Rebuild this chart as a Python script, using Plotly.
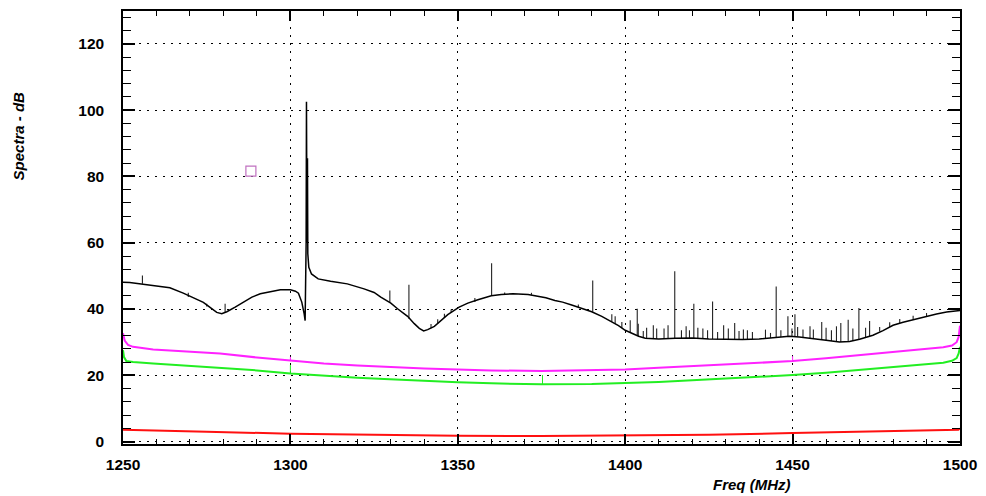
import plotly.graph_objects as go

# ---------------- data ----------------
black_f = [1250, 1252, 1256, 1260, 1264, 1268, 1271, 1274, 1276, 1278, 1279.5, 1281, 1283.5, 1286,
           1288.5, 1291, 1294, 1297, 1300, 1301.5, 1302.4, 1303.4, 1304.1, 1304.4, 1304.7, 1304.8,
           1304.95, 1305.1, 1305.2, 1305.5, 1306.3, 1308.3, 1312, 1317, 1322, 1325, 1327, 1330, 1332,
           1335, 1337, 1338.5, 1339.8, 1341, 1343, 1345, 1347, 1350.4, 1353, 1356, 1360, 1363, 1366.5,
           1371, 1374, 1376.3, 1379, 1381.3, 1384, 1386, 1388, 1390, 1393, 1396, 1398, 1400, 1402, 1404,
           1406, 1410, 1415, 1420, 1425, 1430, 1435, 1440, 1445, 1449, 1452, 1456, 1460, 1464, 1467,
           1470, 1474, 1477, 1480, 1483, 1486, 1489.6, 1493, 1496, 1500]
black_v = [48.1, 48.0, 47.5, 47.0, 46.4, 44.8, 43.4, 42.0, 40.5, 39.0, 38.6, 39.2, 40.6, 42.2,
           43.6, 44.6, 45.3, 45.8, 45.8, 45.4, 44.8, 42.1, 38.6, 36.5, 60.0, 102.5,
           60.0, 85.5, 56.7, 52.6, 50.6, 49.1, 48.4, 47.6, 46.1, 45.0, 43.6, 41.8, 40.1,
           37.8, 35.6, 34.2, 33.4, 33.8, 34.8, 36.6, 38.3, 40.6, 41.8, 42.8, 44.0, 44.4, 44.6,
           44.4, 43.9, 43.4, 42.6, 42.1, 41.2, 40.6, 39.8, 39.2, 37.8, 36.2, 35.0, 33.6, 32.6, 31.8,
           31.2, 31.0, 31.2, 31.3, 31.0, 30.8, 30.8, 31.0, 31.4, 31.8, 31.6, 31.2, 30.6, 30.1, 30.2,
           30.9, 32.1, 33.5, 35.1, 36.0, 36.8, 37.6, 38.5, 39.1, 39.6]

spike_f = [1255.8, 1269.5, 1275.0, 1280.5, 1329.7, 1335.4, 1342.0, 1344.0, 1346.0, 1348.0, 1355.1,
           1360.1, 1364.0, 1372.0, 1386.0, 1390.3, 1396.0, 1397.0, 1399.0, 1401.5, 1403.6, 1403.9,
           1405.4, 1406.4, 1408.4, 1409.4, 1411.6, 1412.8, 1414.8, 1416.8, 1418.2, 1419.2, 1420.5,
           1421.7, 1423.2, 1424.6, 1426.1, 1427.6, 1429.4, 1430.8, 1432.7, 1434.0, 1435.3, 1436.5,
           1438.0, 1441.9, 1443.4, 1445.1, 1446.5, 1448.6, 1449.8, 1450.7, 1451.5, 1453.1, 1455.2,
           1456.2, 1458.7, 1460.0, 1461.6, 1463.1, 1464.4, 1466.6, 1468.0, 1469.8, 1471.8, 1473.0,
           1476.0, 1479.0, 1482.0, 1486.0, 1490.0]
spike_base = [47.6, 43.6, 40.8, 39.1, 42.1, 37.1, 34.2, 35.6, 37.4, 38.9, 42.1,
              44.0, 44.4, 44.3, 40.6, 39.2, 36.2, 35.6, 34.3, 33.1, 32.0, 31.9,
              31.4, 31.2, 31.1, 31.0, 31.0, 31.1, 31.2, 31.2, 31.3, 31.3, 31.3,
              31.2, 31.1, 31.0, 31.0, 30.9, 30.8, 30.8, 30.8, 30.8, 30.8, 30.9,
              31.0, 31.2, 31.3, 31.4, 31.6, 31.8, 31.8, 31.7, 31.7, 31.5, 31.2,
              31.1, 30.9, 30.6, 30.4, 30.2, 30.1, 30.2, 30.4, 30.8, 31.5, 31.9,
              33.2, 34.6, 35.8, 36.8, 37.7]
spike_top = [50.1, 44.9, 41.6, 41.6, 45.6, 47.3, 35.5, 36.9, 38.6, 39.9, 43.3,
             53.8, 45.0, 44.9, 41.4, 48.6, 38.4, 37.8, 36.1, 36.6, 40.1, 35.6,
             33.4, 34.4, 35.1, 34.1, 34.1, 35.1, 51.4, 33.6, 34.8, 33.6, 41.6,
             34.4, 34.1, 33.6, 42.3, 33.1, 35.1, 34.1, 35.8, 33.4, 33.8, 33.6,
             33.1, 33.8, 32.8, 46.8, 33.6, 37.8, 34.1, 38.4, 34.6, 33.8, 34.8,
             33.8, 36.1, 34.4, 33.6, 34.8, 35.8, 36.8, 34.1, 40.3, 34.4, 36.4,
             34.6, 36.0, 37.0, 38.0, 38.8]

magenta_f = [1250, 1250.5, 1251.5, 1253, 1259, 1270, 1279, 1290, 1300, 1310, 1320, 1328, 1340, 1350,
             1360, 1375, 1390, 1400, 1410, 1420, 1430, 1440, 1450, 1460, 1472, 1480, 1490, 1495,
             1497.6, 1499, 1499.6, 1500]
magenta_v = [32.7, 30.5, 29.2, 28.6, 27.8, 27.1, 26.6, 25.4, 24.4, 23.6, 23.0, 22.6, 22.1, 21.8,
             21.5, 21.3, 21.5, 21.8, 22.3, 22.8, 23.3, 23.8, 24.3, 25.2, 26.3, 27.0, 27.9, 28.5,
             29.0, 30.0, 31.6, 35.0]

green_f = [1250, 1250.3, 1251, 1253, 1259, 1270, 1279, 1290, 1300, 1310, 1320, 1328, 1340, 1350,
           1360, 1375, 1390, 1400, 1410, 1420, 1430, 1440, 1450, 1460, 1472, 1480, 1490, 1495,
           1497.6, 1499, 1499.6, 1500]
green_v = [27.6, 25.5, 24.3, 24.0, 23.6, 22.9, 22.3, 21.5, 20.6, 19.9, 19.3, 18.9, 18.3, 17.9,
           17.6, 17.3, 17.4, 17.6, 18.0, 18.5, 19.0, 19.5, 20.1, 20.8, 21.8, 22.4, 23.2, 23.8,
           24.4, 25.2, 26.6, 28.6]

red_f = [1250, 1260, 1275, 1300, 1325, 1350, 1375, 1400, 1425, 1450, 1475, 1490, 1499.5, 1500]
red_v = [3.6, 3.3, 3.0, 2.4, 2.0, 1.8, 1.7, 1.8, 2.1, 2.6, 3.1, 3.4, 3.6, 4.0]

# small spikes on the coloured curves: (freq, base, top)
cspike_f = [1300.0, 1300.0, 1375.3, 1450.0]
cspike_base = [20.6, 24.4, 17.3, 24.3]
cspike_top = [23.1, 25.6, 20.1, 25.8]
cspike_color = ["#22ee22", "#ff22ff", "#22ee22", "#ff22ff"]

marker_f = [1288.2]
marker_v = [81.6]

x_ticks = [1250, 1300, 1350, 1400, 1450, 1500]
y_ticks = [0, 20, 40, 60, 80, 100, 120]

# ---------------- figure ----------------
fig = go.Figure()

fig.add_trace(go.Scatter(x=red_f, y=red_v, mode="lines",
                         line=dict(color="#ff1010", width=2), hoverinfo="skip"))
fig.add_trace(go.Scatter(x=green_f, y=green_v, mode="lines",
                         line=dict(color="#22ee22", width=2), hoverinfo="skip"))
fig.add_trace(go.Scatter(x=magenta_f, y=magenta_v, mode="lines",
                         line=dict(color="#ff22ff", width=2), hoverinfo="skip"))
for f, b, t, c in zip(cspike_f, cspike_base, cspike_top, cspike_color):
    fig.add_trace(go.Scatter(x=[f, f], y=[b, t], mode="lines",
                             line=dict(color=c, width=1), hoverinfo="skip"))

sx, sy = [], []
for f, b, t in zip(spike_f, spike_base, spike_top):
    sx += [f, f, None]
    sy += [b, t, None]
fig.add_trace(go.Scatter(x=sx, y=sy, mode="lines",
                         line=dict(color="#222222", width=1.1), hoverinfo="skip"))
fig.add_trace(go.Scatter(x=black_f, y=black_v, mode="lines",
                         line=dict(color="black", width=1.5), hoverinfo="skip"))

fig.add_trace(go.Scatter(x=marker_f, y=marker_v, mode="markers",
                         marker=dict(symbol="square-open", size=10, color="#c070c0",
                                     line=dict(width=1.2, color="#c070c0")),
                         hoverinfo="skip"))

axis_font = dict(family="Liberation Sans, Arial, sans-serif", size=15.5, color="black")
fig.update_layout(
    width=986, height=496,
    margin=dict(l=123, r=18, t=9, b=52),
    paper_bgcolor="white", plot_bgcolor="white",
    showlegend=False,
    font=dict(family="Liberation Sans, Arial, sans-serif", color="black"),
)
fig.update_xaxes(
    range=[1250, 1500], tickvals=x_ticks, ticktext=[f"<b>{v}</b>" for v in x_ticks],
    tickfont=axis_font, showline=True, linecolor="black", linewidth=1.5, mirror="allticks",
    ticks="inside", ticklen=10, tickwidth=1.5, tickcolor="black",
    showgrid=True, gridcolor="black", gridwidth=1, griddash="2px,6px",
    zeroline=False, ticklabelstandoff=6,
    minor=dict(dtick=10, tick0=1250, ticks="inside", ticklen=5, tickwidth=1.2,
               tickcolor="black", showgrid=False),
)
fig.update_yaxes(
    range=[-0.7, 129.9], tickvals=y_ticks, ticktext=[f"<b>{v}</b>" for v in y_ticks],
    tickfont=axis_font, showline=True, linecolor="black", linewidth=1.5, mirror="allticks",
    ticks="inside", ticklen=12, tickwidth=1.5, tickcolor="black",
    showgrid=True, gridcolor="black", gridwidth=1, griddash="2px,6px",
    zeroline=False, ticklabelstandoff=14,
    minor=dict(dtick=4, tick0=0, ticks="inside", ticklen=8, tickwidth=1.2,
               tickcolor="black", showgrid=False),
)

title_font = dict(family="Liberation Sans, Arial, sans-serif", size=15, color="black")
fig.add_annotation(text="<b><i>Spectra - dB</i></b>", xref="paper", yref="paper",
                   x=-0.138, y=0.82, showarrow=False, textangle=-90, font=title_font)
fig.add_annotation(text="<b><i>Freq (MHz)</i></b>", xref="paper", yref="paper",
                   x=0.801, y=-0.117, showarrow=False, font=title_font)

fig.write_html("out.html")
